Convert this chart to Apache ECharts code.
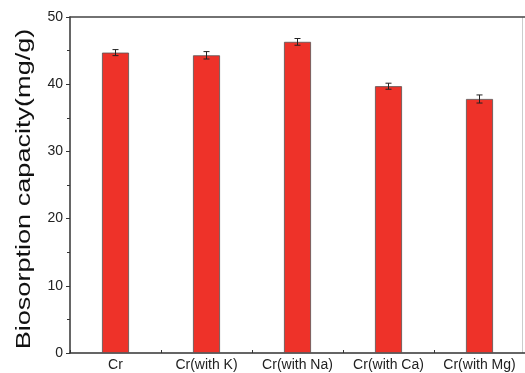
<!DOCTYPE html>
<html><head><meta charset="utf-8">
<script src="https://cdn.jsdelivr.net/npm/echarts@6/dist/echarts.min.js"></script>
<style>html,body{margin:0;padding:0;background:#fff}#c{width:525px;height:373px}</style>
</head><body><div id="c"></div>
<script>
const categories = ['Cr', 'Cr(with K)', 'Cr(with Na)', 'Cr(with Ca)', 'Cr(with Mg)'];
const values = [44.7, 44.3, 46.3, 39.7, 37.8];
const errors = [0.45, 0.55, 0.5, 0.45, 0.6];
const yTicks = [0, 10, 20, 30, 40, 50];
const yTitle = 'Biosorption capacity(mg/g)';

const chart = echarts.init(document.getElementById('c'));
const font = 'Liberation Sans, Arial, sans-serif';
chart.setOption({
  animation: false,
  grid: {left: 70, top: 17, right: -2, bottom: 20},
  graphic: [
    {type: 'text', x: 24, y: 189, rotation: Math.PI / 2, scaleX: 1.29,
     style: {text: yTitle, fontSize: 21, fontFamily: font, fill: '#111', align: 'center', verticalAlign: 'middle'}},
    {type: 'line', shape: {x1: 522.5, y1: 17, x2: 522.5, y2: 353}, style: {stroke: '#ccc', lineWidth: 1}}
  ],
  xAxis: [{
    type: 'category', data: categories,
    axisLine: {lineStyle: {color: '#333', width: 1.5}},
    axisTick: {show: true, inside: true, length: 3, lineStyle: {color: '#333'}},
    axisLabel: {color: '#222', fontSize: 14, fontFamily: font, margin: 5, interval: 0}
  }, {
    type: 'category', data: categories, position: 'top',
    axisLine: {lineStyle: {color: '#444', width: 1.5}},
    axisTick: {show: false}, axisLabel: {show: false}
  }],
  yAxis: {
    type: 'value', min: yTicks[0], max: yTicks[yTicks.length - 1], interval: 10,
    axisLine: {show: true, lineStyle: {color: '#333', width: 1.5}},
    axisTick: {show: true, length: 4, lineStyle: {color: '#333'}},
    minorTick: {show: true, splitNumber: 2, length: 3, lineStyle: {color: '#333'}},
    splitLine: {show: false},
    axisLabel: {color: '#222', fontSize: 14, fontFamily: font, margin: 7}
  },
  series: [{
    type: 'bar', data: values, barWidth: 27,
    itemStyle: {color: '#EE3229', borderColor: '#555', borderWidth: 0.8}
  }, {
    type: 'custom', data: values.map((v, i) => [i, v - errors[i], v + errors[i]]),
    renderItem: function (params, api) {
      const lo = api.coord([api.value(0), api.value(1)]);
      const hi = api.coord([api.value(0), api.value(2)]);
      const w = 3;
      const st = {stroke: '#222', lineWidth: 1};
      return {type: 'group', children: [
        {type: 'line', shape: {x1: lo[0], y1: lo[1], x2: hi[0], y2: hi[1]}, style: st},
        {type: 'line', shape: {x1: lo[0] - w, y1: lo[1], x2: lo[0] + w, y2: lo[1]}, style: st},
        {type: 'line', shape: {x1: hi[0] - w, y1: hi[1], x2: hi[0] + w, y2: hi[1]}, style: st}
      ]};
    },
    z: 5
  }]
});
</script></body></html>
